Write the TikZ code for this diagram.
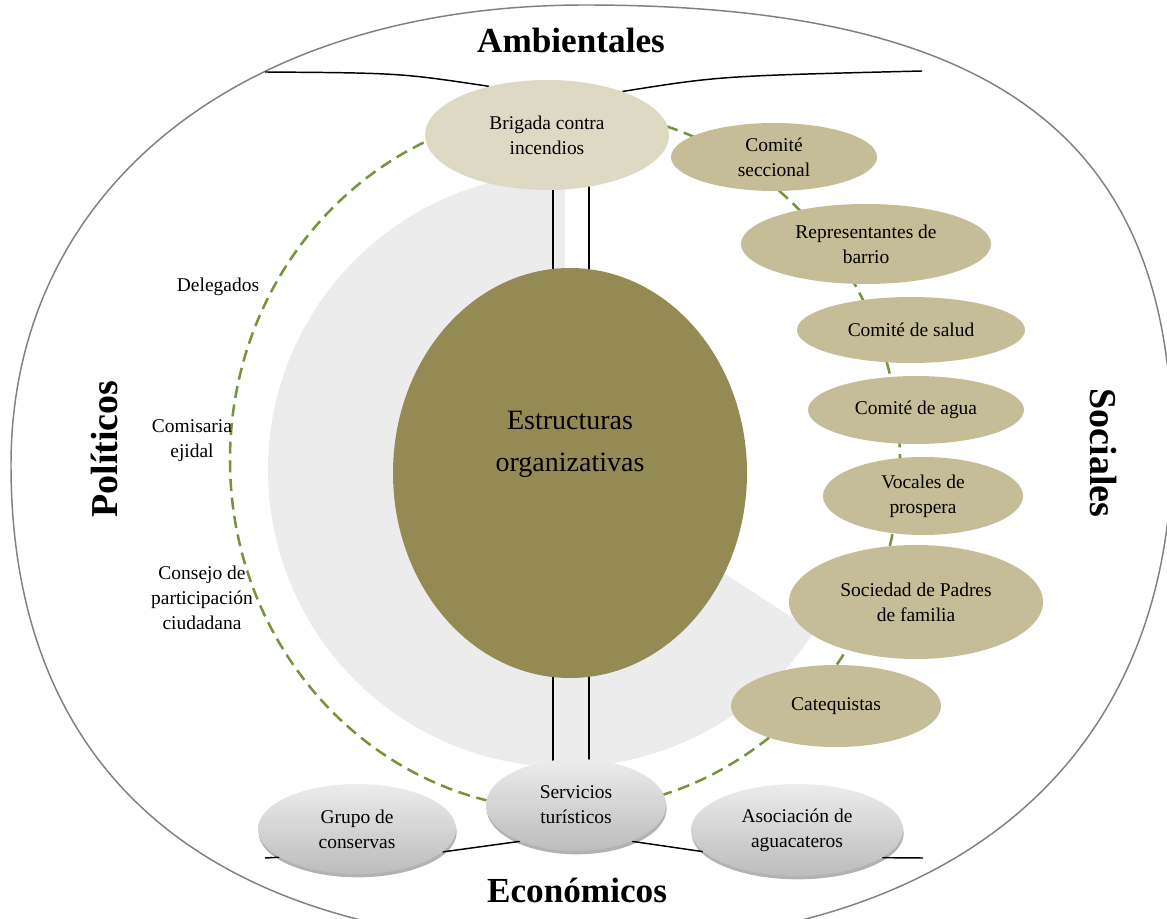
\documentclass[tikz,border=0pt]{standalone}
\usepackage{fontspec}
\setmainfont{Liberation Serif}
\usetikzlibrary{shapes.geometric,shadows}
\newlength\pxu \setlength\pxu{0.75pt}
\definecolor{cOlive}{RGB}{148,138,84}
\definecolor{cTan}{RGB}{196,189,151}
\definecolor{cTanL}{RGB}{221,217,195}
\definecolor{cGreen}{RGB}{119,147,60}
\definecolor{cPie}{RGB}{236,236,236}
\definecolor{cRing}{RGB}{128,128,128}
\definecolor{cGrayT}{RGB}{236,236,236}
\definecolor{cGrayB}{RGB}{188,188,188}
\pgfdeclarelayer{bg}
\pgfdeclarelayer{mid}
\pgfsetlayers{bg,mid,main}
\tikzset{
  txt/.style={font=\fontsize{14.6}{18.8}\selectfont, align=center, text=black},
  oval/.style n args={2}{ellipse, minimum width=#1\pxu, minimum height=#2\pxu, inner sep=0pt, txt},
  tanoval/.style={fill=cTan},
  grayoval/.style={top color=cGrayT, bottom color=cGrayB,
    drop shadow={shadow xshift=0.5pt, shadow yshift=-2.5pt, opacity=0.3, fill=black}},
  title/.style={font=\bfseries\fontsize{26.4}{30}\selectfont},
  sidetitle/.style={font=\bfseries\fontsize{28.5}{32}\selectfont},
  conn/.style={black, line width=1.1pt},
  dashring/.style={cGreen, line width=1.9pt, dash pattern=on 9pt off 5pt},
}
\begin{document}
\begin{tikzpicture}[x=0.75pt,y=-0.75pt]
\useasboundingbox (0,0) rectangle (1167,919);
\clip (0,0) rectangle (1167,919);

% ---------- nodes ----------
\node[oval={354}{410}, fill=cOlive] (core) at (570,473) {};
\node[txt, font=\fontsize{21}{31.5}\selectfont] (coretext) at (570,444) {Estructuras\\organizativas};
\node[oval={244}{110}, fill=cTanL] (brig) at (547,135) {Brigada contra\\incendios};
\node[oval={206}{68}, tanoval] (com) at (774,157) {Comité\\seccional};
\node[oval={250}{80}, tanoval] (rep) at (866,244) {Representantes de\\barrio};
\node[oval={228}{66}, tanoval] (sal) at (911,330) {Comité de salud};
\node[oval={216}{68}, tanoval] (agu) at (916,410) {Comité de agua};
\node[oval={200}{78}, tanoval] (voc) at (923,496) {Vocales de\\prospera};
\node[oval={254}{114}, tanoval] (soc) at (916,602) {Sociedad de Padres\\de familia};
\node[oval={210}{82}, tanoval] (cat) at (836,706) {Catequistas};
\node[oval={180}{92}, grayoval] (serv) at (576,805) {Servicios\\turísticos};
\node[oval={198}{90}, grayoval] (grupo) at (357,829) {Grupo de\\conservas};
\node[oval={212}{92}, grayoval] (asoc) at (797,830) {Asociación de\\aguacateros};

\node[txt] (del) at (218,287) {Delegados};
\node[txt] (comi) at (192,441) {Comisaria\\ejidal};
\node[txt] (cons) at (202,598) {Consejo de\\participación\\ciudadana};

\node[title] (amb) at (571,40) {Ambientales};
\node[title] (eco) at (577,890) {Económicos};
\node[sidetitle, rotate=90] (pol) at (104,449) {Políticos};
\node[sidetitle, rotate=-90] (soci) at (1103,453) {Sociales};

\coordinate (tl) at (265,72);
\coordinate (tr) at (922,71);
\coordinate (bl) at (265,858);
\coordinate (br) at (923,858);

% ---------- connectors ----------
\begin{pgfonlayer}{mid}
  \draw[conn] (brig.center -| 553,0) -- (core.center -| 553,0);
  \draw[conn] (brig.center -| 589,0) -- (core.center -| 589,0);
  \draw[conn] (core.center -| 553,0) -- (serv.center -| 553,0);
  \draw[conn] (core.center -| 589,0) -- (serv.center -| 589,0);
  \draw[conn] (tl) .. controls (400,73) .. (brig.140);
  \draw[conn] (brig.30) .. controls (720,76) .. (tr);
  \draw[conn] (bl) -- (grupo.200);
  \draw[conn] (grupo.-15) -- (serv.-147);
  \draw[conn] (serv.-33) -- (asoc.193);
  \draw[conn] (asoc.-18) -- (br);
\end{pgfonlayer}

% ---------- background ----------
\begin{pgfonlayer}{bg}
  \draw[cRing, line width=1.1pt]
    (585,5) .. controls (996,5) and (1172,138) .. (1172,447)
    .. controls (1172,761) and (955,945) .. (585,945)
    .. controls (212,945) and (11,777) .. (11,465)
    .. controls (11,189) and (241,5) .. cycle;
  \fill[cPie] (565,470) -- ++(33:297) arc[start angle=33, end angle=270, radius=297] -- cycle;
  \draw[dashring] (565,460) ellipse [x radius=335, y radius=350];
\end{pgfonlayer}
\end{tikzpicture}
\end{document}
